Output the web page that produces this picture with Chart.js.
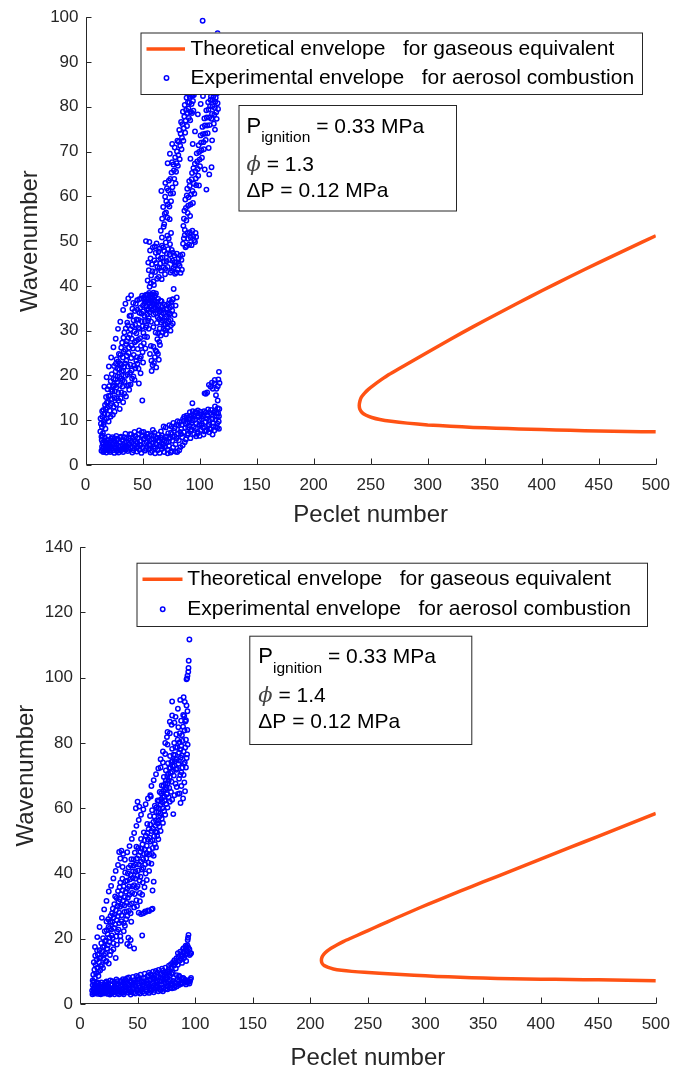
<!DOCTYPE html>
<html>
<head>
<meta charset="utf-8">
<script src="https://cdn.jsdelivr.net/npm/chart.js@4.4.1/dist/chart.umd.min.js"></script>
<style>
  html, body { margin: 0; padding: 0; background: #fff; overflow: hidden; }
  .wrap { position: absolute; left: 0; width: 680px; }
  #wrap1 { top: 0; height: 530px; }
  #wrap2 { top: 530px; height: 545px; }
</style>
</head>
<body>
<div class="wrap" id="wrap1"><canvas id="c1" width="680" height="530"></canvas></div>
<div class="wrap" id="wrap2"><canvas id="c2" width="680" height="545"></canvas></div>
<script>
// ---- tick labels ----
const xTicks = [0, 50, 100, 150, 200, 250, 300, 350, 400, 450, 500];
const topYTicks = [0, 10, 20, 30, 40, 50, 60, 70, 80, 90, 100];
const botYTicks = [0, 20, 40, 60, 80, 100, 120, 140];

const legendLabels = ['Theoretical envelope   for gaseous equivalent', 'Experimental envelope   for aerosol combustion'];

// ---- top panel (phi = 1.3): theoretical envelope [Pe, wavenumber], upper branch then lower branch ----
const topTheory = [[500, 51.2], [475, 48.2], [450, 45.2], [425, 42.1], [400, 38.9], [380, 36.3], [360, 33.6], [340, 30.9],
  [320, 28.1], [300, 25.2], [287, 23.3], [274, 21.4], [266, 20.2], [259, 19.0], [253, 17.9], [248, 16.9], [244.5, 16.0],
  [242, 15.2], [240.6, 14.3], [240, 13.3], [240.6, 12.4], [242.5, 11.7], [246, 11.1], [251, 10.6], [258, 10.15], [268, 9.75],
  [282, 9.35], [300, 8.95], [320, 8.65], [340, 8.4], [360, 8.2], [380, 8.05], [400, 7.9], [425, 7.75], [450, 7.6],
  [475, 7.5], [500, 7.4]];

// top panel, experimental: lower (almost flat) band
const topExpLow = [[14,3.2],[14.5,4.1],[15,5.0],[15.2,3.6],[15.8,4.6],[16.3,3.1],[16.9,5.4],[17.4,4.0],[18,3.4],[18.6,4.8],
  [19.1,5.6],[19.7,3.9],[20.3,4.5],[20.9,3.2],[21.4,5.1],[22,4.2],[22.6,3.6],[23.1,5.5],[23.8,4.7],[24.4,3.3],[25,4.0],
  [25.7,5.2],[26.3,3.7],[26.9,4.6],[27.5,3.1],[28.2,5.8],[28.8,4.3],[29.5,3.5],[30.1,5.0],[30.8,4.1],[31.4,3.3],[32,5.6],
  [32.7,4.5],[33.3,3.8],[34,6.2],[34.6,4.9],[35.3,3.4],[36,5.3],[36.6,4.2],[37.3,3.6],[38,5.9],[38.6,4.7],[39.3,3.9],
  [40,6.8],[40.6,5.1],[41.3,4.0],[42,3.3],[42.7,5.6],[43.3,4.4],[44,6.4],[44.7,3.8],[45.4,5.0],[46,4.1],[46.7,6.9],
  [47.4,3.4],[48,5.3],[48.7,4.5],[49.4,7.3],[50,3.9],[50.7,5.8],[51.4,4.8],[52,3.2],[52.7,6.4],[53.4,5.1],[54,4.0],
  [54.8,7.0],[55.5,3.5],[56.2,5.5],[56.9,4.3],[57.6,6.6],[58.3,3.1],[59,5.0],[59.7,4.1],[60.4,7.2],[61,3.7],[61.8,5.9],
  [62.5,4.6],[63.2,3.3],[64,6.8],[64.7,5.3],[65.4,4.2],[66.1,7.5],[66.8,3.6],[67.5,5.7],[68.2,4.6],[69,2.9],[69.7,6.3],
  [70.4,8.4],[71.1,5.0],[71.8,3.4],[72.5,7.1],[73.2,4.3],[74,6.0],[74.7,2.8],[75.4,8.6],[76.1,5.4],[76.8,3.9],[77.5,7.6],
  [78.3,6.4],[79,4.6],[79.7,9.0],[80.4,2.9],[81.1,7.0],[81.9,5.5],[82.6,9.6],[83.3,4.0],[84,8.1],[84.8,6.2],[85.5,10.3],
  [86.2,7.3],[87,5.1],[87.7,9.2],[88.5,11.0],[89.2,6.7],[90,8.3],[90.7,10.5],[91.5,11.8],[92.2,7.6],[93,9.4],[93.7,13.8],
  [94.5,11.2],[95.2,6.9],[96,10.1],[96.8,8.2],[97.5,11.6],[98.3,7.4],[99,10.7],[99.8,9.0],[100.6,11.9],[101.3,7.8],
  [102.1,10.2],[102.9,8.4],[103.7,11.4],[104.4,16.0],[105.2,9.6],[106,7.7],[106.7,16.2],[107.5,12.4],[108.3,10.0],
  [109,8.1],[109.8,17.5],[110.6,11.3],[111.4,6.8],[112.1,9.4],[112.9,18.2],[113.6,12.0],[114.4,8.5],[115.2,10.8],
  [115.9,14.4],[116.5,19.1],[117,20.8],[116.8,9.7],[114.8,17.0],[110.8,18.4],[108.5,7.3],[103.5,6.8],[100,6.5],[97,6.4],
  [92,6.0],[88,5.7],[86,9.8],[89,10.6],[91,10.1],[94,12.0],[96.5,11.9],[98.5,12.2],[101,11.3],[104,12.0],[107,11.1],
  [110,12.3],[112.5,11.7],[115,11.6],[117,10.9],[116,12.7],[113.5,13.1],[90,7.0],[93,7.9],[95,8.5],[98,7.0],[101.5,8.9],
  [104.5,7.5],[107.5,8.7],[110,8.0],[113,7.7],[115.5,8.3],[117,8.1],[14.2,5.6],[15.5,2.9],[17,6.1],[18.3,2.8],[20,6.4],
  [21.7,2.9],[23.5,6.2],[25.3,2.7],[27,6.5],[29,2.8],[31,6.3],[33,2.9],[35,7.0],[37,3.1],[39,6.9],[41,2.8],[43,7.4],
  [45,3.0],[47,7.7],[49,2.7],[51,7.4],[53,3.6],[55,6.1],[57,2.8],[59,7.8],[61,2.6],[63,6.1],[65,2.7],[67,6.6],[68.5,8.6],
  [70,4.0],[72,2.6],[73.5,8.9],[75.8,3.1],[77,9.4],[78.8,3.0],[80.8,9.8],[82.2,3.3],[83.8,6.9],[85.2,4.4],
  [14.8,6.6],[16,4.0],[17.7,5.1],[19.4,3.3],[21,4.6],[22.4,5.9],[24,3.8],[25.6,6.0],[27.2,4.8],[28.5,3.3],[30.4,6.1],
  [32.4,3.6],[34.3,4.2],[35.8,5.9],[37.7,4.6],[39.6,5.5],[41.6,6.2],[43.9,5.2],[45.8,6.0],[47.8,4.4],[49.8,6.6],[51.8,5.9],
  [53.8,6.9],[55.8,4.6],[57.9,5.7],[59.9,6.5],[61.4,4.8],[63.6,5.4],[65.8,6.1],[67.2,4.1],[69.3,5.3],[71.5,6.4],[73,5.2],
  [75,7.2],[76.5,6.3],[78,8.2],[80,6.0],[81.5,8.8],[83,7.4],[84.5,9.0],[86.5,10.8],[87.5,8.3],[89.5,9.5],[91,8.8],
  [92.7,11.0],[94,9.9],[95.5,10.8],[97,9.3],[98.8,11.0],[100.2,10.0],[102,9.2],[103.2,10.8],[105.5,11.8],[106.4,10.4],
  [108,9.1],[109.4,11.6],[111,10.2],[112.2,8.6],[113.8,10.1],[115.5,9.3],[116.3,11.5],[117.3,12.5],[114.4,15.6],
  [111.6,17.0],[105.5,15.9],[108.2,17.9],[116,17.6],[117.5,18.3],[113.3,19.0]];

// top panel, experimental: rising band
const topExpRise = [[13,7.5],[13.5,9.2],[14,6.3],[14.4,8.5],[14.8,10.8],[15.3,7.1],[15.7,12.3],[16.2,9.6],[16.6,11.4],
  [17.1,13.4],[17.5,8.1],[18,15.2],[18.4,10.4],[18.9,12.8],[19.3,16.9],[19.8,14.1],[20.3,9.7],[20.7,17.6],[21.2,12.1],
  [21.6,15.5],[22.1,18.7],[22.6,13.8],[23,20.3],[23.5,16.4],[24,11.2],[24.5,19.2],[25,22.1],[25.4,15.0],[25.9,17.8],
  [26.4,20.9],[26.9,13.5],[27.3,23.6],[27.8,18.4],[28.3,21.5],[28.8,16.1],[29.3,24.8],[29.8,19.7],[30.3,22.7],[30.8,14.9],
  [31.3,26.2],[31.8,20.8],[32.3,17.5],[32.8,24.0],[33.3,28.4],[33.8,21.9],[34.3,18.6],[34.8,25.7],[35.3,30.5],[35.8,23.3],
  [36.3,27.6],[36.8,20.2],[37.3,31.2],[37.8,25.0],[38.3,16.8],[38.8,29.1],[39.3,22.4],[39.8,33.4],[40.3,26.7],[40.8,19.3],
  [41.3,31.0],[41.8,36.2],[42.3,24.6],[42.8,29.8],[43.3,34.4],[43.8,21.6],[44.3,27.7],[44.8,32.5],[45.3,36.8],[45.8,25.9],
  [46.3,30.6],[46.8,18.2],[47.3,34.0],[47.8,28.3],[48.3,20.5],[48.8,37.2],[49.3,32.1],[49.8,14.4],[50.3,35.6],[50.8,29.5],
  [51.3,37.5],[51.8,33.3],[52.3,36.5],[52.8,30.7],[53.3,38.0],[53.8,34.7],[54.3,37.0],[54.8,32.2],[55.3,36.1],[55.8,38.4],
  [56.3,34.1],[56.8,37.4],[57.3,26.6],[57.8,35.4],[58.3,38.1],[58.8,22.3],[59.3,36.8],[59.8,33.6],[60.3,37.7],[60.8,24.1],
  [61.3,35.2],[61.8,38.3],[62.3,25.3],[62.8,36.4],[63.3,33.0],[63.8,37.1],[64.3,23.5],[64.8,34.3],[65.3,26.8],[65.8,36.7],
  [66.4,31.8],[67,35.3],[67.6,29.6],[68.2,33.9],[68.8,31.3],[69.4,35.8],[70,30.1],[70.7,33.1],[71.3,34.8],[72,31.7],
  [72.6,36.0],[73.3,33.6],[74,35.1],[74.6,32.4],[75.3,36.4],[76,34.5],[76.6,37.0],[77.3,39.3],[78,45.3],
  [54.5,41.2],[55.5,43.5],[56.2,39.8],[57,46.1],[57.6,42.3],[58.3,44.8],[59,48.6],[59.6,41.0],[60.3,45.7],[61,43.1],
  [61.6,47.4],[62.3,49.5],[63,44.2],[63.6,46.6],[64.3,42.0],[65,48.3],[65.6,45.0],[66.3,43.4],[67,49.0],[67.6,46.3],
  [68.3,44.1],[69,47.8],[69.7,42.6],[70.4,49.7],[71,45.5],[71.7,51.2],[72.4,48.2],[73,50.6],[73.7,47.0],[74.4,43.0],
  [75,51.8],[76.2,45.6],[77,44.0],[77.8,46.8],[78.5,42.7],[79.3,45.2],[80.1,47.2],[80.9,43.6],[81.7,46.1],[82.5,44.5],
  [83.3,42.9],[84.1,45.8],[53,50.0],[56,49.8],
  [85.5,49.4],[87,51.3],[88.5,48.9],[90,50.5],[91.5,52.0],[93,49.1],[94.5,51.1],[96,49.8],[97,50.9],
  [66,52.3],[67.2,55.0],[68.1,57.6],[69,53.8],[69.8,59.9],[70.6,56.4],[71.4,61.8],[72.2,58.2],[73,63.5],[73.8,54.9],
  [74.6,60.6],[75.4,65.3],[76.2,62.0],[77,67.1],[77.8,63.9],[78.6,68.7],[79.4,65.5],[80.2,70.0],[81,66.8],[81.8,72.2],
  [82.6,68.3],[83.4,74.0],[84.2,70.5],[85,76.1],[85.8,72.4],[86.6,77.8],[87.4,74.2],[88.2,79.3],[89,75.7],[89.8,81.0],
  [90.6,77.5],[91.4,82.2],[92.2,78.9],[93,80.6],[93.8,82.5],[94.6,79.1],[70,63],[72,67.4],[74,69.5],[76,71.7],[66.5,61.2],
  [85.8,53.4],[86.7,56.8],[87.5,59.3],[88.4,54.6],[89.2,61.7],[90,57.9],[90.9,63.4],[91.7,55.6],[92.5,60.4],[93.4,65.2],
  [94.2,58.5],[95,62.8],[95.9,67.3],[96.7,64.0],[97.5,69.6],[98.4,66.1],[99.2,71.4],[100,68.2],[100.9,73.6],[101.7,70.3],
  [102.5,75.5],[103.4,72.1],[104.2,77.4],[105,74.0],[105.9,79.2],[106.7,75.8],[107.5,81.0],[108.4,77.6],[109.2,80.1],
  [110,82.3],[110.9,78.4],[111.7,81.5],[112.5,76.2],[113.4,79.7],[114.2,82.0],[115,77.3],[115.8,80.8],[96,74.5],[98.5,78.3],
  [101,80.6],[103,82.4],[99.5,62.4],[104.5,66.0],[108,70.8],[111,72.5],[113.5,74.9],[106,61.5],[108.5,64.9],[110.5,66.5],
  [94,71.7],[92,68.4],[102.7,99.2],[115.8,96.4],[100.3,83.5],[112,83.0],
  [13.2,10.4],[14.6,12.0],[15.9,9.0],[16.9,10.1],[17.8,12.4],[18.7,13.9],[19.5,11.3],[20.1,15.4],[21.8,13.4],[22.8,16.8],
  [23.2,14.7],[24.2,17.6],[24.8,13.0],[25.7,16.4],[26.2,19.1],[26.6,22.6],[27.1,17.3],[28,19.8],[28.6,23.1],[29,14.4],
  [29.6,21.3],[30.1,17.8],[30.6,24.6],[31,19.3],[31.6,22.4],[32.1,27.3],[32.6,18.9],[33,21.1],[33.6,25.3],[34.1,29.6],
  [34.6,22.7],[35.1,19.9],[35.6,27.0],[36.1,24.4],[36.6,31.8],[37.1,22.0],[37.6,28.4],[38.1,26.2],[38.6,33.3],[39.1,20.6],
  [39.6,30.3],[40.1,23.9],[40.6,28.2],[41.1,34.9],[41.6,26.0],[42.1,32.3],[42.6,22.2],[43.1,27.4],[43.6,31.3],[44.1,36.0],
  [44.6,29.4],[45.1,24.1],[45.6,34.7],[46.1,28.0],[46.6,32.4],[47.1,37.0],[47.6,30.4],[48.1,35.1],[48.6,26.6],[49.1,33.8],
  [49.6,37.8],[50.1,31.0],[50.6,34.3],[51.1,27.2],[51.6,36.1],[52.1,32.1],[52.6,37.9],[53.1,35.4],[53.6,36.6],[54.1,33.6],
  [54.6,38.1],[55.1,34.9],[55.6,37.0],[56.1,36.2],[56.6,35.5],[57.1,38.0],[57.6,36.6],[58.1,34.6],[58.6,37.3],[59.1,35.9],
  [59.6,38.5],[60.1,34.8],[60.6,36.4],[61.1,37.9],[61.6,33.9],[62.1,35.8],[62.6,31.7],[63.1,34.6],[63.6,29.4],[64.1,35.6],
  [64.6,32.6],[65.1,30.5],[65.6,34.6],[66.1,33.2],[66.7,36.6],[67.3,32.3],[67.9,34.6],[68.5,30.4],[69.1,32.8],[69.7,34.1],
  [70.3,31.4],[71,35.6],[71.6,30.6],[72.3,34.0],[73,32.1],[73.6,36.8],[74.3,33.8],[75,31.2],[75.6,35.5],[76.3,36.9],
  [56.5,24.8],[57.8,23.3],[59.5,26.4],[60,22.8],[61.4,25.6],[63.5,24.8],[64.6,27.5],[58,21.0],[62,21.8],
  [55,45.2],[56.6,47.9],[57.3,40.6],[58.7,43.3],[60,40.2],[60.8,48.8],[62,45.1],[62.8,41.6],[64,47.7],[64.8,44.0],
  [66,46.1],[66.8,41.5],[68,48.6],[68.7,45.4],[70,43.8],[71.3,47.2],[72,44.2],[73.3,45.8],[74.1,49.3],[75.6,48.0],
  [75.8,43.4],[76.7,47.4],[78.2,44.6],[79.8,43.0],[81.3,44.9],[83,46.8],[84.5,43.6],[85,47.0],
  [86.2,50.6],[87.7,48.6],[89.3,51.8],[90.8,49.2],[92.2,50.8],[93.7,52.3],[95.3,50.2],[96.5,51.8],
  [67,50.8],[68.5,53.2],[69.5,56.1],[70.8,58.9],[71.9,55.2],[72.7,61.3],[73.6,57.7],[74.3,63.9],[75,58.9],[75.9,67.6],
  [76.8,60.7],[77.5,65.8],[78.2,70.9],[79,62.9],[79.8,67.4],[80.6,72.4],[81.4,69.2],[82.2,74.8],[83,71.3],[83.8,76.6],
  [84.6,73.1],[85.4,78.9],[86.2,75.2],[87,80.4],[87.8,76.9],[88.6,82.0],[89.4,78.6],[90.2,79.6],[91,80.9],[91.8,77.0],
  [92.6,82.6],[93.4,78.6],[94.2,81.3],[95,82.6],
  [86.3,55.0],[87.1,52.5],[88,57.4],[88.8,60.2],[89.6,56.3],[90.4,59.8],[91.3,62.3],[92.1,58.2],[93,63.8],[93.8,61.2],
  [94.6,66.3],[95.4,60.6],[96.3,65.6],[97.1,62.5],[97.9,67.8],[98.8,64.6],[99.6,69.9],[100.4,66.7],[101.3,72.0],[102.1,68.6],
  [102.9,73.9],[103.8,70.5],[104.6,75.8],[105.4,72.6],[106.3,77.6],[107.1,74.1],[107.9,79.4],[108.8,75.9],[109.6,81.5],
  [110.4,77.3],[111.3,80.1],[112.1,82.3],[112.9,78.2],[113.8,81.1],[114.6,78.8],[115.4,83.0],[116.2,79.5],
  [16.5,17.5],[18.5,19.6],[20.5,22.0],[22.5,24.0],[24.5,26.3],[26.5,28.2],[28.5,30.4],[30.5,32.0],[33,34.6],[35,36.0],
  [37.5,37.2],[40,37.9],[30,12.5],[33,14.0],[35.5,15.3],[38,17.8],[40.5,21.1],[43,19.0],[45.5,22.6],[47.5,23.8],[50,25.2],
  [52.5,26.0],[54,28.6],[55.5,30.4],[22,10.8],[25.5,11.9],[27.5,14.9],[31.5,16.2],[34,15.9],[36.5,17.7],[39.5,18.0],
  [42,19.8],[44.5,23.3],[46.5,21.5],[48.5,24.2],[50.5,22.9],[52,28.7],[53.5,31.1],[55.5,32.8],[57.5,32.0],[59.5,30.8],
  [61.5,29.6],[63,28.1],[66,28.9],[70.5,29.2],[74.5,30.0],[76.5,31.6],[78,33.5],[79,35.6],[80,37.4]];

// ---- bottom panel (phi = 1.4) ----
const botTheory = [[500, 58.4], [475, 54.9], [450, 51.4], [425, 47.9], [400, 44.4], [375, 40.9], [350, 37.4], [330, 34.6],
  [310, 31.7], [295, 29.5], [280, 27.2], [267, 25.2], [255, 23.3], [245, 21.7], [236, 20.3], [229, 19.2], [223, 18.1],
  [218, 17.1], [214.5, 16.2], [211.8, 15.3], [210.2, 14.4], [209.6, 13.4], [210.2, 12.5], [212, 11.8], [215.5, 11.2],
  [220, 10.75], [227, 10.35], [236, 10.0], [247, 9.7], [260, 9.4], [275, 9.1], [290, 8.8], [310, 8.45], [330, 8.2],
  [350, 7.95], [375, 7.75], [400, 7.6], [425, 7.5], [450, 7.4], [475, 7.25], [500, 7.1]];

const botExpLow = [[10.5,4.1],[11,5.8],[11.4,3.4],[11.9,6.9],[12.3,4.7],[12.8,3.2],[13.2,5.5],[13.7,4.0],[14.2,6.3],
  [14.7,3.5],[15.2,4.9],[15.7,3.1],[16.2,5.7],[16.8,4.3],[17.3,3.3],[17.8,6.0],[18.4,4.6],[18.9,3.6],[19.5,5.3],[20,4.0],
  [20.6,3.2],[21.1,6.1],[21.7,4.8],[22.3,3.5],[22.8,5.6],[23.4,4.2],[24,3.1],[24.5,6.4],[25.1,5.0],[25.7,3.7],[26.3,7.2],
  [26.8,4.4],[27.4,3.3],[28,5.8],[28.6,4.6],[29.2,3.6],[29.8,6.7],[30.4,5.2],[31,3.9],[31.6,7.5],[32.2,4.5],[32.8,3.3],
  [33.4,6.2],[34,5.0],[34.6,3.7],[35.2,7.1],[35.8,4.3],[36.4,5.7],[37,3.4],[37.6,6.6],[38.2,4.9],[38.8,3.8],[39.4,7.5],
  [40,5.3],[40.6,4.1],[41.2,6.3],[41.8,3.5],[42.4,8.1],[43,5.6],[43.6,4.4],[44.2,7.0],[44.8,3.6],[45.4,5.9],[46,8.3],
  [46.6,4.8],[47.2,3.7],[47.8,6.6],[48.4,5.2],[49,8.6],[49.6,4.0],[50.2,6.2],[50.8,3.6],[51.4,7.6],[52,5.0],[52.6,9.0],
  [53.2,4.2],[53.8,6.8],[54.4,3.8],[55,8.0],[55.6,5.5],[56.2,9.3],[56.8,4.4],[57.4,7.1],[58,3.9],[58.6,8.6],[59.2,5.9],
  [59.8,9.6],[60.4,4.7],[61,7.4],[61.6,4.0],[62.2,8.8],[62.8,6.2],[63.4,9.9],[64,5.0],[64.6,7.8],[65.2,4.3],[65.8,10.1],
  [66.4,6.5],[67,8.5],[67.6,5.2],[68.2,10.4],[68.8,7.2],[69.4,4.6],[70,9.1],[70.6,6.0],[71.2,10.8],[71.8,7.8],[72.4,5.0],
  [73,9.6],[73.6,6.6],[74.2,11.1],[74.8,8.2],[75.4,5.4],[76,10.0],[76.6,7.0],[77.2,11.7],[77.8,8.7],[78.4,5.8],[79,12.2],
  [79.6,9.3],[80.2,6.2],[80.8,12.8],[81.4,8.0],[82,13.4],[82.6,6.5],[83.2,10.9],[83.8,14.0],[84.4,7.4],[85,12.0],
  [85.6,14.6],[86.2,8.4],[86.8,13.3],[87.4,6.1],[88,15.2],[88.6,12.6],[89.2,8.0],[89.8,16.0],[90.4,14.1],[91,6.5],
  [91.6,16.8],[92.2,13.2],[92.8,7.2],[93.4,15.3],[94,17.3],[94.6,6.8],[95.2,15.0],[95.8,7.5],[93.5,19.6],[94.2,21.2],
  [93.8,20.3],[90,17.1],[92.5,17.5],[87,16.0],[85,15.6],[96,15.4],[84,8.8],[86,8.7],[88,7.7],[90,7.0],[92,6.0],[94,7.0],
  [95,6.3],[82,5.6],[78,9.8],[75,8.9],[72,8.8],[12,5.0],[14,4.2],[16,6.3],[18,3.0],[20,5.0],[22,6.6],[24,4.6],[26,2.9],
  [28,7.0],[30,3.0],[32,6.0],[34,3.0],[36,7.0],[38,3.0],[40,7.0],[42,4.8],[44,2.9],[46,6.4],[48,3.2],[50,7.5],[52,3.2],
  [54,5.8],[56,3.3],[58,6.3],[60,3.4],[62,5.4],[64,3.6],[66,4.9],[68,3.9],[70,4.2],[72,3.9],[74,4.5],[76,4.5],[78,4.9],
  [80,4.8],[82,5.0],[84,5.4],[86,5.8],[88,6.2],
  [10.8,3.0],[11.6,4.6],[12.6,6.0],[13.4,3.6],[14.4,5.2],[15.4,6.6],[16.5,3.8],[17.6,4.8],[18.6,6.6],[19.8,3.4],[21,5.5],
  [22,3.9],[23,6.9],[24.2,5.4],[25.4,4.3],[26.6,5.9],[27.8,3.6],[29,5.0],[30.2,6.4],[31.3,4.8],[32.5,7.0],[33.7,4.2],
  [34.9,5.6],[36.1,3.6],[37.3,7.6],[38.5,5.9],[39.7,4.5],[40.9,7.9],[42.1,6.0],[43.3,3.8],[44.5,6.6],[45.7,4.6],[46.9,7.3],
  [48.1,5.8],[49.3,4.4],[50.5,8.3],[51.7,5.6],[52.9,7.0],[54.1,4.8],[55.3,6.5],[56.5,8.0],[57.7,5.1],[58.9,7.4],[60.1,5.6],
  [61.3,9.1],[62.5,4.4],[63.7,7.0],[64.9,8.7],[66.1,5.6],[67.3,9.6],[68.5,6.0],[69.7,8.0],[70.9,4.8],[72.1,10.2],[73.3,7.1],
  [74.5,9.6],[75.7,6.2],[76.9,10.6],[78.1,7.4],[79.3,11.3],[80.5,9.6],[81.7,11.8],[82.9,12.6],[85.3,13.2],[87.7,13.9],
  [88.9,14.6],[90.1,15.7],[91.3,15.0],[92.5,16.3],[93.7,16.2],[95,16.8],[96.5,15.6],[89.5,16.9],[91.8,17.9],[93.2,18.0],
  [78.6,6.3],[80.9,7.1],[83.5,6.4],[85.8,7.0],[87.9,6.5],[89.9,7.9],[91.5,7.4],[93.3,6.6],[95.5,7.0],[96.4,8.0],[76,8.0],
  [74,7.6],[70.5,7.0],[67,7.2],[63,8.2]];

const botExpRise = [[11,7.2],[11.5,9.0],[12,6.6],[12.5,10.5],[13,8.0],[13.5,12.0],[14,9.4],[14.5,13.6],[15,11.1],
  [15.5,15.0],[16,8.6],[16.5,12.8],[17,16.5],[17.5,10.3],[18,14.3],[18.5,18.6],[19,12.0],[19.5,16.0],[20,20.2],[20.5,13.8],
  [21,17.7],[21.5,22.3],[22,15.5],[22.5,19.5],[23,25.3],[23.5,17.0],[24,21.4],[24.5,26.0],[25,12.4],[25.5,19.0],[26,23.2],
  [26.5,27.0],[27,16.2],[27.5,21.0],[28,25.1],[28.5,29.2],[29,18.6],[29.5,23.3],[30,27.4],[30.5,33.0],[31,14.1],[31.5,20.7],
  [32,25.7],[32.5,30.0],[33,34.6],[33.5,22.8],[34,28.0],[34.5,32.1],[35,37.2],[35.5,19.4],[36,25.4],[36.5,30.4],[37,34.9],
  [37.5,46.0],[38,22.3],[38.5,28.2],[39,32.7],[39.5,37.6],[40,26.0],[40.5,31.0],[41,35.3],[41.5,40.0],[42,20.3],[42.5,28.5],
  [43,33.5],[43.5,38.2],[44,42.5],[44.5,25.2],[45,30.8],[45.5,36.0],[46,40.6],[46.5,44.3],[47,17.0],[47.5,33.7],[48,38.4],
  [48.5,42.8],[49,48.2],[49.5,30.0],[50,36.1],[50.5,40.9],[51,45.5],[51.5,60.5],[52,34.0],[52.5,39.0],[53,43.6],[53.5,47.6],
  [54,21.0],[54.5,37.2],[55,41.7],[55.5,46.0],[56,50.2],[56.5,28.4],[57,40.0],[57.5,44.6],[58,48.5],[58.5,52.4],[59,28.7],
  [59.5,43.3],[60,47.2],[60.5,51.0],[61,55.0],[61.5,63.6],[62,29.0],[62.5,46.0],[63,50.2],[63.5,53.7],[64,37.5],[64.5,57.5],
  [65,49.0],[65.5,52.8],[66,56.2],[66.5,60.3],[67,51.5],[67.5,55.3],[68,58.8],[68.5,62.2],[69,54.4],[69.5,57.6],[70,61.0],
  [70.5,64.6],[71,56.8],[71.5,60.0],[72,63.4],[72.5,66.8],[73,59.1],[73.5,62.3],[74,65.7],[74.5,68.5],[75,61.3],[75.5,64.3],
  [76,67.6],[76.5,70.5],[77,63.4],[77.5,66.2],[78,69.5],[78.5,72.3],[79,65.0],[79.5,68.1],[80,71.2],[80.5,74.5],[81,58.2],
  [81.5,70.0],[82,73.1],[82.5,76.3],[83,67.5],[83.5,71.8],[84,75.0],[84.5,78.6],[85,64.4],[85.5,73.6],[86,77.0],[86.5,80.2],
  [87,70.2],[87.5,75.5],[88,79.1],[88.5,82.4],[89,72.4],[89.5,85.0],[90,77.4],[90.5,88.3],[91,74.0],[91.5,86.6],[92,81.0],
  [92.5,91.5],[93,76.5],[93.3,89.7],[90,94.0],[87,93.2],[80,92.7],[83,88.0],[85,90.5],[92.5,99.5],[93.3,100.6],[94,101.8],
  [94.2,103.0],[94.4,105.2],[95,111.7],[93,99.8],[76,79.5],[78,83.0],[74,76.6],[72,74.0],[75.5,81.8],[79.5,85.6],[82,86.2],
  [70,72.5],[61,64.0],[50,62.0],[48.5,60.0],[34,46.6],[36,47.0],[41,18.4],[44,19.6],[43,17.8],[39,24.0],[51,28.0],[53,27.6],
  [55,27.8],[57,28.2],[60,28.5],[63,29.2],[63,34.8],
  [12,12.8],[13.2,14.8],[14.8,16.4],[15.8,9.9],[16.7,14.0],[18.2,11.6],[19.8,17.4],[20.8,15.0],[21.8,19.2],[22.4,13.0],
  [23.2,22.6],[24.2,18.0],[24.8,23.6],[25.6,20.4],[26.2,25.2],[27.2,22.8],[27.8,27.8],[28.4,20.2],[29.2,26.5],[29.8,30.6],
  [30.6,24.4],[31.2,28.7],[31.8,32.5],[32.2,22.2],[32.8,26.9],[33.4,31.4],[34,24.8],[34.4,35.8],[34.8,29.8],[35.6,33.6],
  [36.2,27.2],[36.8,38.4],[37.4,31.7],[38,36.0],[38.6,30.2],[39.2,40.3],[39.8,34.4],[40.4,28.4],[41,37.8],[41.6,32.6],
  [42.2,41.8],[42.8,36.0],[43.4,30.4],[44,39.6],[44.6,44.4],[45.2,34.0],[45.8,38.6],[46.4,42.4],[47,36.4],[47.6,46.4],
  [48.2,40.6],[48.8,35.6],[49.4,44.6],[50,39.3],[50.6,47.8],[51.2,42.8],[51.8,37.8],[52.4,46.6],[53,50.6],[53.6,41.2],
  [54.2,48.9],[54.8,44.4],[55.4,52.6],[56,47.4],[56.6,42.8],[57.2,51.6],[57.8,46.2],[58.4,55.2],[59,50.4],[59.6,53.6],
  [60.2,45.8],[60.8,57.6],[61.4,49.8],[62,53.0],[62.6,59.4],[63.2,47.8],[63.8,55.8],[64.4,51.4],[65,60.8],[65.6,54.6],
  [66.2,58.8],[66.8,52.6],[67.4,62.4],[68,56.2],[68.6,60.0],[69.2,65.0],[69.8,58.4],[70.4,62.8],[71,67.0],[71.6,61.8],
  [72.2,65.2],[72.8,69.6],[73.4,63.6],[74,67.6],[74.6,71.6],[75.2,66.2],[75.8,69.8],[76.4,73.8],[77,68.4],[77.6,72.4],
  [78.2,76.0],[78.8,70.8],[79.4,74.2],[80,78.2],[80.6,72.8],[81.2,76.4],[81.8,80.0],[82.4,74.4],[83,78.6],[83.6,82.6],
  [84.2,72.2],[84.8,81.0],[85.4,84.8],[86,74.6],[86.6,83.0],[87.2,78.0],[87.8,86.8],[88.4,76.2],[89,80.6],[89.6,88.6],
  [90.2,73.6],[90.8,83.8],[91.4,78.6],[92,87.0],[92.6,75.4],[93.2,84.0],
  [86.5,64.5],[88,66.8],[89.5,63.0],[90.6,67.9],[91.2,65.2],[87.3,61.6],
  [13,17.5],[15,20.5],[17,23.6],[19,26.4],[21,29.0],[23,31.6],[25,34.5],[27,36.2],[29,38.5],[31,40.8],[33,42.6],[35,44.6],
  [37,42.0],[39,44.2],[41,46.5],[43,48.4],[45,50.6],[47,52.4],[49,54.6],[51,56.4],[53,58.0],[55,59.6],[57,61.2],[59,63.0],
  [62,66.8],[64,68.6],[66,70.4],[68,72.2],[70,75.0],[72,77.4],[74,80.0],[76,83.4],[78,86.5],[80,88.4],
  [20,11.0],[23,13.2],[26,15.0],[29,16.8],[32,18.2],[35,20.8],[38,24.8],[41,27.0],[44,27.8],[47,29.6],[49,31.8],[52,31.5],
  [54,33.5],[56,35.8],[58,38.0],[60,40.8],[62,43.0],[64,45.4],[66,48.0],[68,50.5],[70,53.0],[72,55.5],[74,58.0],[76,60.2],
  [78,62.0],[80,62.6],[82,64.0],[84,66.5],[86,69.0],[88,71.0],[90,70.2],[92,72.5],[93.5,79.5],[91,92.6]];

// ---- styling ----
const expColor = '#0000ff';
const theoryColor = '#ff5214';
const ink = '#262626';
const FONT = '"Liberation Sans", Arial, Helvetica, sans-serif';

const toXY = arr => arr.map(p => ({ x: p[0], y: p[1] }));

// axes with inward ticks, legend box and the note box
const overlay = {
    id: 'overlay',
    afterDraw: function (chart, args, o) {
        const ctx = chart.ctx;
        const area = chart.chartArea;
        const sx = chart.scales.x, sy = chart.scales.y;
        ctx.save();

        ctx.strokeStyle = ink;
        ctx.lineWidth = 1;
        ctx.beginPath();
        const ax = Math.round(area.left) + 0.5;
        const ay = Math.round(area.bottom) - 0.5;
        ctx.moveTo(ax, area.top);
        ctx.lineTo(ax, ay);
        ctx.lineTo(area.right + 0.5, ay);
        sx.ticks.forEach(t => {
            const p = Math.round(sx.getPixelForValue(t.value)) + 0.5;
            ctx.moveTo(p, ay);
            ctx.lineTo(p, ay - 6);
        });
        sy.ticks.forEach(t => {
            const p = Math.round(sy.getPixelForValue(t.value)) + 0.5;
            ctx.moveTo(ax, p);
            ctx.lineTo(ax + 5, p);
        });
        ctx.stroke();

        // legend
        const L = o.legend;
        ctx.fillStyle = '#fff';
        ctx.fillRect(L.left, L.top, L.right - L.left, L.bottom - L.top);
        ctx.strokeStyle = ink;
        ctx.lineWidth = 1;
        ctx.strokeRect(L.left + 0.5, L.top + 0.5, L.right - L.left, L.bottom - L.top);

        ctx.strokeStyle = theoryColor;
        ctx.lineWidth = 3.5;
        ctx.beginPath();
        ctx.moveTo(L.lineX0, L.row1);
        ctx.lineTo(L.lineX1, L.row1);
        ctx.stroke();

        ctx.strokeStyle = expColor;
        ctx.lineWidth = 1.5;
        ctx.beginPath();
        ctx.arc(L.markX, L.row2, 2.2, 0, Math.PI * 2);
        ctx.stroke();

        ctx.fillStyle = '#000';
        ctx.font = '21px ' + FONT;
        ctx.textBaseline = 'middle';
        ctx.textAlign = 'left';
        ctx.fillText(legendLabels[0], L.textX, L.row1);
        ctx.fillText(legendLabels[1], L.textX, L.row2);

        // note box
        const N = o.note;
        ctx.fillStyle = '#fff';
        ctx.fillRect(N.left, N.top, N.right - N.left, N.bottom - N.top);
        ctx.strokeStyle = ink;
        ctx.lineWidth = 1;
        ctx.strokeRect(N.left + 0.5, N.top + 0.5, N.right - N.left, N.bottom - N.top);

        ctx.textBaseline = 'alphabetic';
        ctx.fillStyle = '#000';
        ctx.font = '22px ' + FONT;
        ctx.fillText('P', N.textX, N.base1);
        let cx = N.textX + ctx.measureText('P').width;
        ctx.font = '15.5px ' + FONT;
        ctx.fillText('ignition', cx, N.sub);
        cx += ctx.measureText('ignition').width;
        ctx.font = '21px ' + FONT;
        ctx.fillText(' = 0.33 MPa', cx, N.base1);

        ctx.font = 'italic 21px "DejaVu Serif", serif';
        ctx.fillStyle = '#444';
        ctx.fillText('\u03D5', N.textX, N.base2);
        cx = N.textX + ctx.measureText('\u03D5').width;
        ctx.fillStyle = '#000';
        ctx.font = '21px ' + FONT;
        ctx.fillText(' = ' + o.phi, cx, N.base2);
        ctx.fillText('\u0394P = 0.12 MPa', N.textX, N.base3);

        ctx.restore();
    }
};

function makePanel(canvasId, p) {
    const ctx = document.getElementById(canvasId).getContext('2d');
    return new Chart(ctx, {
        type: 'scatter',
        data: {
            datasets: [{
                data: toXY(p.low.concat(p.rise)),
                pointStyle: 'circle',
                pointRadius: 2.2,
                borderWidth: 1.5,
                borderColor: expColor,
                backgroundColor: 'rgba(0,0,0,0)',
                showLine: false
            }, {
                data: toXY(p.theory),
                showLine: true,
                borderColor: theoryColor,
                borderWidth: 3.5,
                borderJoinStyle: 'round',
                pointRadius: 0,
                tension: 0.15,
                fill: false
            }]
        },
        options: {
            responsive: false,
            animation: false,
            events: [],
            layout: { padding: { left: 0, right: p.padRight, top: p.padTop, bottom: 0 } },
            plugins: {
                legend: { display: false },
                tooltip: { enabled: false },
                overlay: { legend: p.legend, note: p.note, phi: p.phi }
            },
            scales: {
                x: {
                    type: 'linear',
                    min: xTicks[0],
                    max: xTicks[xTicks.length - 1],
                    afterBuildTicks: s => { s.ticks = xTicks.map(v => ({ value: v })); },
                    afterFit: s => { s.height = p.xAxisH; },
                    grid: { display: false, drawTicks: false },
                    border: { display: false },
                    ticks: { color: ink, font: { family: FONT, size: 17 }, padding: p.xTickPad, maxRotation: 0, autoSkip: false },
                    title: { display: true, text: 'Peclet number', color: ink, font: { family: FONT, size: 24 }, padding: { top: 0, bottom: p.xTitlePad } }
                },
                y: {
                    type: 'linear',
                    min: p.yTicks[0],
                    max: p.yTicks[p.yTicks.length - 1],
                    afterBuildTicks: s => { s.ticks = p.yTicks.map(v => ({ value: v })); },
                    afterFit: s => { s.width = p.yAxisW; },
                    grid: { display: false, drawTicks: false },
                    border: { display: false },
                    ticks: { color: ink, font: { family: FONT, size: 17 }, padding: 7, autoSkip: false },
                    title: { display: true, text: 'Wavenumber', color: ink, font: { family: FONT, size: 24 }, padding: { top: p.yTitlePad, bottom: 0 } }
                }
            }
        },
        plugins: [overlay]
    });
}

makePanel('c1', {
    low: topExpLow, rise: topExpRise, theory: topTheory, yTicks: topYTicks, phi: '1.3',
    padRight: 21, padTop: 14.7, xAxisH: 65, yAxisW: 85.5, xTickPad: 10, xTitlePad: 0, yTitlePad: 16,
    legend: { left: 140.5, top: 32.5, right: 642, bottom: 94, lineX0: 146.5, lineX1: 185, markX: 166.5, textX: 190.5, row1: 49, row2: 78 },
    note: { left: 238.5, top: 105, right: 456, bottom: 210.5, textX: 246.5, base1: 132.7, sub: 141.5, base2: 170.7, base3: 196.7 }
});

makePanel('c2', {
    low: botExpLow, rise: botExpRise, theory: botTheory, yTicks: botYTicks, phi: '1.4',
    padRight: 16, padTop: 14.7, xAxisH: 71, yAxisW: 80, xTickPad: 10, xTitlePad: 2.6, yTitlePad: 12,
    legend: { left: 136.5, top: 32.7, right: 647, bottom: 96, lineX0: 142.5, lineX1: 182.5, markX: 162.7, textX: 187.3, row1: 49.3, row2: 79.3 },
    note: { left: 249.3, top: 105.7, right: 471.3, bottom: 214, textX: 258.3, base1: 133.3, sub: 143, base2: 171.7, base3: 198 }
});
</script>
</body>
</html>
